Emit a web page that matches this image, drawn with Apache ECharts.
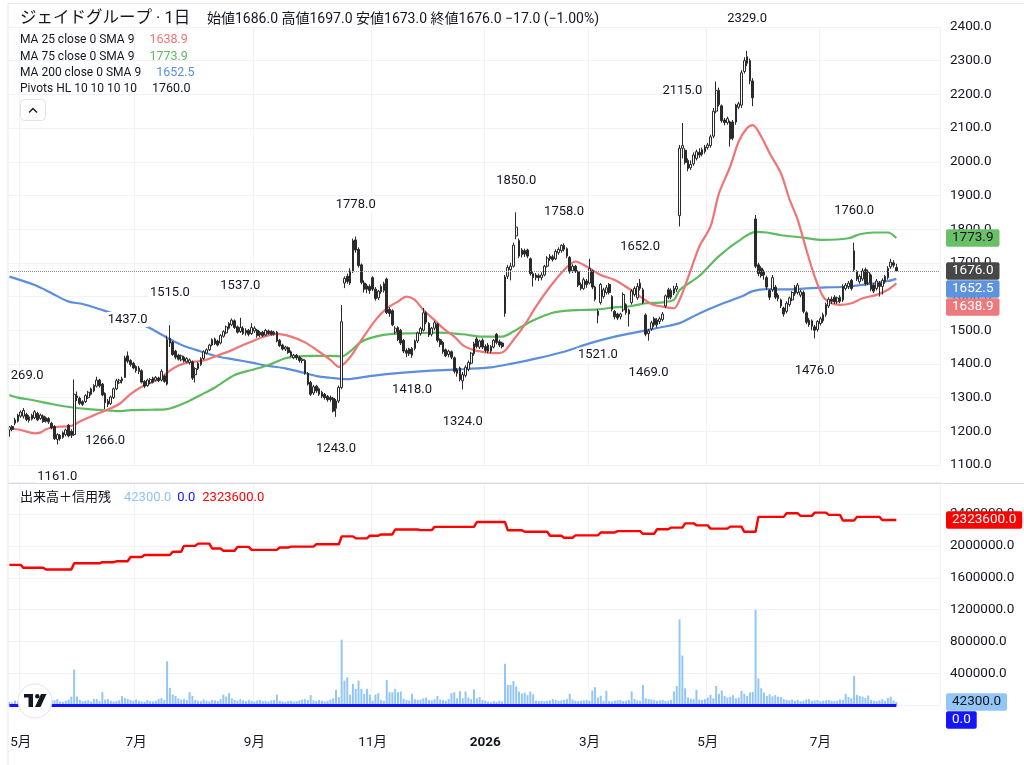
<!DOCTYPE html>
<html><head><meta charset="utf-8">
<script src="https://cdn.jsdelivr.net/npm/echarts@6/dist/echarts.min.js"></script>
<style>html,body{margin:0;padding:0;background:#fff;}#c{width:1024px;height:765px;}</style>
</head><body><div id="c"></div>
<script>
// ---------- DATA ----------
const startDate = '2025-04-24';
const holidays = ['2025-04-29','2025-05-05','2025-05-06','2025-07-21','2025-08-11','2025-09-15','2025-09-23','2025-10-13','2025-11-03','2025-11-24','2025-12-31','2026-01-01','2026-01-02','2026-01-12','2026-02-11','2026-02-23','2026-03-20','2026-04-29','2026-05-04','2026-05-05','2026-05-06','2026-07-20','2026-08-11','2026-09-21','2026-09-22','2026-09-23'];
const padSlots = 15;

// [open, close, low, high]
const candles = [
[1204,1213,1184,1216],[1214,1206,1200,1218],[1224,1234,1218,1240],[1230,1248,1226,1252],[1245,1257,1240,1262],
[1245,1262,1238,1269],[1250,1235,1230,1255],[1232,1243,1226,1248],[1236,1248,1232,1252],[1240,1258,1236,1263],
[1253,1234,1230,1258],[1238,1248,1234,1252],[1245,1229,1225,1250],[1240,1230,1226,1244],[1238,1228,1222,1242],
[1224,1210,1206,1228],[1214,1178,1174,1218],[1176,1190,1161,1194],[1188,1178,1172,1192],[1182,1196,1178,1200],
[1190,1204,1185,1208],[1218,1186,1182,1222],[1200,1188,1180,1206],[1190,1310,1186,1354],[1305,1300,1290,1318],
[1298,1283,1278,1303],[1288,1280,1275,1292],[1288,1306,1284,1310],[1300,1316,1296,1320],[1310,1326,1306,1330],
[1320,1336,1316,1340],[1334,1352,1330,1362],[1352,1335,1330,1356],[1340,1308,1304,1344],[1312,1285,1266,1316],
[1290,1280,1272,1296],[1282,1302,1278,1306],[1300,1326,1296,1330],[1326,1350,1322,1356],[1344,1352,1340,1356],
[1350,1356,1342,1362],[1360,1418,1358,1424],[1424,1408,1402,1437],[1410,1398,1392,1414],[1402,1388,1384,1406],
[1392,1380,1374,1396],[1378,1388,1370,1394],[1380,1346,1342,1384],[1348,1334,1328,1352],[1336,1352,1332,1356],
[1344,1354,1340,1358],[1346,1358,1342,1362],[1352,1360,1348,1364],[1358,1350,1346,1362],[1352,1378,1348,1384],
[1364,1348,1344,1368],[1340,1472,1336,1484],[1476,1462,1450,1515],[1464,1428,1424,1468],[1438,1420,1414,1442],
[1426,1414,1410,1430],[1412,1424,1408,1428],[1420,1408,1404,1424],[1406,1416,1402,1420],[1404,1412,1398,1416],
[1406,1358,1352,1410],[1368,1386,1345,1390],[1386,1402,1382,1406],[1398,1416,1394,1420],[1416,1436,1412,1440],
[1432,1442,1428,1446],[1442,1456,1438,1460],[1456,1472,1452,1476],[1474,1460,1456,1478],[1468,1456,1452,1472],
[1462,1484,1458,1488],[1482,1496,1478,1500],[1492,1510,1488,1514],[1506,1520,1502,1524],[1516,1530,1512,1535],
[1528,1508,1504,1532],[1510,1494,1490,1514],[1496,1508,1492,1537],[1506,1490,1486,1512],[1492,1500,1484,1506],
[1500,1488,1482,1504],[1490,1508,1486,1521],[1498,1506,1492,1512],[1500,1484,1478,1504],[1486,1494,1480,1498],
[1494,1484,1480,1498],[1486,1500,1482,1504],[1498,1490,1486,1502],[1496,1488,1484,1500],[1488,1494,1484,1498],
[1494,1468,1464,1498],[1470,1454,1450,1474],[1456,1444,1440,1460],[1444,1450,1438,1454],[1448,1434,1430,1452],
[1436,1424,1420,1440],[1418,1426,1414,1430],[1426,1418,1412,1430],[1420,1410,1404,1424],[1410,1414,1402,1418],
[1410,1372,1368,1414],[1372,1340,1336,1376],[1345,1310,1305,1350],[1314,1332,1308,1338],[1334,1320,1314,1338],
[1326,1310,1305,1330],[1316,1304,1298,1320],[1310,1300,1294,1314],[1304,1294,1288,1308],[1300,1294,1288,1306],
[1298,1260,1256,1302],[1268,1290,1243,1296],[1290,1330,1284,1336],[1330,1525,1325,1575],[1640,1654,1625,1660],
[1660,1645,1638,1668],[1640,1676,1634,1684],[1676,1766,1670,1772],[1768,1738,1730,1778],[1740,1692,1686,1746],
[1694,1642,1636,1698],[1640,1622,1612,1648],[1622,1632,1610,1638],[1630,1618,1608,1636],[1656,1622,1616,1660],
[1622,1594,1588,1628],[1596,1616,1590,1620],[1614,1630,1608,1636],[1618,1638,1612,1644],[1652,1552,1548,1656],
[1562,1550,1540,1568],[1558,1516,1512,1562],[1494,1506,1488,1512],[1508,1472,1468,1512],[1500,1462,1456,1504],
[1470,1438,1432,1474],[1440,1432,1420,1446],[1444,1430,1424,1448],[1426,1446,1418,1450],[1446,1468,1440,1472],
[1468,1492,1462,1496],[1490,1505,1484,1510],[1500,1552,1496,1566],[1552,1524,1518,1556],[1520,1486,1480,1524],
[1488,1506,1482,1510],[1506,1522,1500,1528],[1518,1470,1464,1522],[1472,1458,1450,1476],[1464,1436,1430,1468],
[1442,1424,1420,1446],[1428,1438,1420,1442],[1436,1420,1414,1440],[1418,1378,1372,1422],[1382,1372,1362,1388],
[1388,1354,1348,1392],[1350,1368,1324,1376],[1366,1390,1360,1396],[1384,1404,1378,1410],[1402,1432,1398,1436],
[1430,1460,1424,1466],[1474,1452,1446,1480],[1450,1468,1444,1472],[1470,1450,1444,1476],[1452,1440,1434,1458],
[1456,1438,1432,1462],[1438,1452,1432,1456],[1450,1470,1446,1474],[1488,1464,1458,1492],[1466,1456,1450,1472],
[1462,1452,1446,1466],[1550,1658,1540,1664],[1660,1686,1652,1694],[1680,1690,1648,1700],[1690,1752,1686,1760],
[1780,1806,1770,1850],[1766,1720,1714,1772],[1724,1738,1716,1744],[1736,1726,1718,1742],[1738,1720,1714,1742],
[1712,1668,1662,1716],[1668,1656,1630,1674],[1656,1664,1648,1670],[1662,1656,1646,1668],[1656,1664,1648,1672],
[1664,1690,1660,1694],[1690,1714,1686,1720],[1712,1720,1706,1726],[1718,1710,1704,1724],[1712,1734,1708,1740],
[1730,1740,1724,1746],[1736,1752,1730,1755],[1752,1740,1734,1758],[1742,1720,1714,1746],[1716,1674,1668,1720],
[1676,1690,1670,1696],[1690,1676,1670,1694],[1674,1634,1628,1678],[1636,1624,1618,1642],[1624,1650,1620,1656],
[1646,1636,1626,1652],[1640,1684,1636,1712],[1676,1628,1622,1680],[1628,1592,1586,1632],[1556,1544,1521,1562],
[1582,1636,1576,1640],[1600,1620,1594,1626],[1612,1626,1606,1634],[1636,1612,1606,1640],[1600,1562,1556,1604],
[1556,1540,1532,1560],[1548,1536,1530,1552],[1540,1548,1532,1552],[1560,1606,1554,1612],[1576,1552,1546,1580],
[1560,1548,1511,1564],[1582,1616,1576,1622],[1606,1624,1600,1630],[1596,1630,1590,1640],[1624,1640,1618,1652],
[1620,1582,1578,1626],[1545,1488,1482,1550],[1490,1498,1469,1504],[1504,1522,1498,1528],[1534,1516,1510,1540],
[1516,1530,1508,1536],[1526,1534,1518,1540],[1532,1548,1526,1554],[1572,1602,1566,1606],[1620,1598,1592,1626],
[1598,1618,1592,1624],[1610,1624,1604,1632],[1622,1630,1614,1640],[1840,2040,1808,2050],[2040,2048,2010,2115],
[2034,1998,1992,2040],[2004,1980,1972,2010],[1982,1992,1976,2004],[1994,2020,1988,2028],[2010,2030,2004,2036],
[2028,2020,2012,2040],[2022,2036,2016,2042],[2030,2044,2024,2050],[2042,2050,2036,2056],[2048,2074,2042,2080],
[2076,2150,2070,2160],[2150,2212,2144,2238],[2212,2170,2164,2220],[2166,2122,2116,2170],[2124,2116,2108,2130],
[2116,2128,2110,2134],[2118,2068,2045,2122],[2070,2118,2064,2124],[2168,2118,2110,2172],[2162,2172,2156,2178],
[2168,2264,2160,2272],[2268,2300,2262,2310],[2292,2312,2284,2329],[2300,2240,2230,2306],[2240,2190,2165,2248],
[1830,1690,1684,1842],[1694,1668,1660,1700],[1684,1662,1656,1690],[1664,1674,1650,1680],[1656,1628,1620,1662],
[1618,1598,1590,1622],[1620,1656,1614,1664],[1628,1598,1592,1634],[1604,1594,1586,1610],[1590,1572,1566,1594],
[1566,1548,1540,1570],[1556,1580,1550,1586],[1576,1596,1570,1600],[1590,1612,1586,1616],[1608,1628,1602,1634],
[1612,1634,1606,1640],[1604,1614,1598,1620],[1612,1556,1550,1618],[1552,1524,1518,1556],[1530,1516,1510,1536],
[1528,1512,1500,1532],[1510,1500,1476,1516],[1502,1526,1496,1530],[1520,1534,1514,1540],[1528,1546,1522,1552],
[1546,1576,1540,1582],[1572,1592,1566,1598],[1592,1586,1578,1600],[1598,1584,1578,1604],[1584,1596,1578,1600],
[1598,1586,1580,1604],[1590,1630,1584,1636],[1624,1634,1618,1640],[1630,1640,1622,1646],[1648,1624,1618,1652],
[1736,1680,1674,1760],[1674,1652,1646,1678],[1644,1660,1638,1666],[1652,1676,1646,1684],[1680,1638,1632,1686],
[1640,1672,1634,1680],[1664,1622,1616,1668],[1634,1616,1610,1640],[1624,1646,1618,1652],[1640,1630,1600,1646],
[1630,1648,1606,1654],[1644,1660,1638,1664],[1656,1684,1650,1690],[1688,1702,1682,1712],[1700,1693,1686,1708],
[1686,1676,1673,1697]
];

const volumes = [
45000,38000,60000,50000,70000,65000,45000,50000,55000,60000,
45000,50000,40000,55000,60000,70000,65000,80000,50000,45000,
60000,75000,110000,450000,112000,70000,55000,60000,65000,50000,
83000,80000,55000,167000,75000,80000,60000,50000,55000,65000,
117000,95000,80000,70000,60000,75000,60000,50000,45000,70000,
55000,50000,60000,80000,95000,70000,554000,221000,137000,120000,
90000,75000,80000,70000,167000,120000,70000,60000,55000,75000,
60000,50000,70000,65000,55000,80000,137000,112000,154000,90000,
70000,60000,80000,65000,55000,70000,60000,50000,65000,70000,
55000,60000,50000,65000,70000,137000,60000,50000,45000,55000,
60000,50000,55000,65000,75000,80000,70000,130000,65000,55000,
70000,60000,50000,60000,75000,90000,196000,104000,825000,312000,
354000,137000,271000,208000,312000,208000,146000,208000,137000,62000,
137000,154000,70000,60000,320000,167000,167000,208000,167000,175000,
85000,70000,60000,146000,80000,70000,75000,90000,100000,70000,
65000,80000,120000,75000,70000,60000,80000,154000,167000,90000,
180000,90000,175000,100000,80000,204000,90000,106000,70000,60000,
50000,40000,55000,45000,60000,50000,522000,257000,257000,306000,
237000,175000,150000,160000,130000,175000,140000,60000,55000,60000,
55000,60000,65000,80000,70000,60000,65000,70000,80000,147000,
75000,60000,55000,60000,65000,70000,60000,188000,229000,100000,
122000,60000,184000,55000,50000,60000,65000,70000,55000,60000,
70000,175000,80000,65000,60000,257000,90000,80000,75000,70000,
60000,65000,70000,55000,60000,70000,175000,245000,1080000,625000,
216000,100000,85000,80000,196000,75000,70000,80000,100000,135000,
90000,245000,147000,188000,120000,100000,110000,130000,90000,100000,
184000,147000,120000,163000,170000,1196000,339000,216000,163000,120000,
140000,115000,130000,110000,105000,80000,70000,65000,75000,60000,
70000,55000,60000,75000,80000,60000,65000,70000,55000,60000,
65000,70000,60000,55000,60000,75000,70000,147000,106000,90000,
371000,135000,120000,110000,95000,125000,70000,60000,55000,65000,
80000,60000,95000,110000,60000,42300
];

// margin balance (信用残): [first candle index of the step, value]
const marginSteps = [[0,1762000],[5,1725000],[13,1704000],[23,1782000],[33,1795000],[38,1807000],[43,1860000],[48,1885000],[58,1926000],[62,2000000],[67,2028000],[72,1967000],[76,1938000],[81,1987000],[86,1950000],[96,1979000],[100,1991000],[109,2020000],[118,2119000],[123,2094000],[128,2127000],[132,2143000],[137,2205000],[146,2197000],[151,2238000],[166,2298000],[177,2196000],[183,2176000],[192,2127000],[197,2102000],[201,2131000],[210,2167000],[216,2184000],[225,2151000],[230,2208000],[235,2229000],[240,2282000],[244,2257000],[249,2216000],[256,2241000],[261,2176000],[266,2363000],[276,2408000],[281,2376000],[286,2416000],[291,2388000],[296,2318000],[301,2363000],[310,2323600]];

// the second volume-pane series (value 0.0)
const zeroSeriesValue = 0;

// moving averages: [candle index, value]
const ma25 = [[0,1209],[4,1204],[9,1194],[11,1196],[13,1206],[16,1213],[22,1216],[25,1229],[30,1248],[35,1265],[39,1281],[43,1310],[47,1332],[51,1347],[54,1360],[57,1380],[60,1395],[64,1405],[69,1410],[74,1425],[79,1441],[83,1456],[86,1466],[90,1480],[95,1489],[100,1481],[105,1464],[109,1442],[114,1412],[117,1391],[121,1420],[125,1471],[130,1530],[134,1565],[138,1585],[141,1600],[144,1590],[147,1560],[151,1530],[154,1506],[158,1481],[161,1456],[165,1441],[168,1436],[172,1432],[175,1434],[179,1471],[183,1516],[187,1570],[192,1629],[197,1679],[201,1704],[205,1689],[210,1664],[215,1649],[219,1629],[224,1600],[228,1578],[232,1570],[236,1565],[238,1590],[242,1679],[245,1748],[249,1808],[252,1906],[256,1986],[259,2060],[262,2100],[264,2109],[267,2075],[270,2025],[274,1966],[277,1890],[280,1827],[283,1740],[286,1659],[289,1600],[292,1580],[295,1575],[299,1580],[303,1595],[308,1605],[312,1620],[315,1638.9]];
const ma75 = [[0,1308],[3,1300],[8,1293],[15,1281],[23,1270],[28,1266],[33,1263],[39,1260],[43,1263],[50,1264],[56,1266],[62,1283],[68,1308],[73,1330],[80,1367],[86,1382],[92,1397],[98,1417],[102,1422],[107,1424],[114,1424],[118,1422],[121,1437],[125,1466],[130,1481],[136,1489],[144,1491],[152,1493],[161,1488],[168,1481],[175,1481],[179,1496],[184,1521],[189,1540],[193,1552],[198,1558],[203,1560],[209,1562],[215,1568],[221,1572],[226,1580],[231,1582],[236,1590],[238,1619],[245,1661],[252,1720],[259,1765],[265,1792],[269,1790],[274,1782],[281,1776],[289,1768],[298,1773],[302,1785],[307,1790],[312,1790],[315,1773.9]];
const ma200 = [[0,1659],[9,1634],[15,1610],[21,1585],[26,1578],[33,1560],[36,1552],[43,1530],[50,1506],[57,1473],[62,1453],[68,1437],[74,1422],[80,1413],[86,1404],[92,1394],[98,1387],[103,1377],[109,1364],[114,1359],[120,1355],[128,1364],[140,1374],[150,1380],[162,1385],[171,1390],[178,1400],[185,1412],[197,1436],[206,1461],[215,1481],[222,1493],[231,1508],[238,1521],[245,1550],[252,1575],[260,1600],[264,1616],[269,1622],[276,1621],[283,1624],[290,1627],[297,1629],[305,1637],[312,1646],[315,1652.5]];

// Pivots HL 10 10 10 10 : [candle index, price]
const pivotHighs = [[5,1269],[42,1437],[57,1515],[82,1537],[123,1778],[180,1850],[197,1758],[224,1652],[239,2115],[262,2329],[300,1760]];
const pivotLows = [[17,1161],[34,1266],[116,1243],[143,1418],[161,1324],[209,1521],[227,1469],[286,1476]];

const symbolName = 'ジェイドグループ · 1日';

// ---------- BUILD ----------
const FONT = "Roboto, 'Noto Sans CJK JP', sans-serif";
const N = candles.length;
function buildDates(n){
  const out=[]; const d=new Date(startDate+'T00:00:00Z');
  while(out.length<n){
    const dow=d.getUTCDay(); const s=d.toISOString().slice(0,10);
    if(dow!==0 && dow!==6 && holidays.indexOf(s)<0) out.push(s);
    d.setUTCDate(d.getUTCDate()+1);
  }
  return out;
}
const dates = buildDates(N + padSlots);
const mon = i => +dates[i].slice(5,7);
const isMonthTick = (i) => i>0 && i<N && mon(i)!==mon(i-1) && mon(i)%2===1;
const monthLabel = (v,i) => mon(i)===1 ? '{y|'+dates[i].slice(0,4)+'}' : mon(i)+'月';

const marginData = [];
for(let i=0;i<N;i++){ let v=marginSteps[0][1]; for(const [s,val] of marginSteps){ if(i>=s) v=val; } marginData.push(v); }
const zeroData = candles.map(()=>zeroSeriesValue);

const last = candles[N-1], prevClose = candles[N-2][1];
const chg = last[1]-prevClose, pct = chg/prevClose*100;
const fmt = v => v.toFixed(1);
const sgn = (v,d) => (v<0?'−':'+')+Math.abs(v).toFixed(d);

const chart = echarts.init(document.getElementById('c'), null, {width:1024,height:765});
const gridCol = '#f0f2f6';
const axisLabelStyle = {color:'#131722', fontSize:13.5, fontFamily:FONT};
const pivotLabel = (dy) => ({show:true,position:'inside',offset:[0,dy],formatter:p=>fmt(p.value[1]),color:'#131722',
  opacity:1,fontSize:13,fontFamily:FONT,backgroundColor:'#ffffff',padding:[1,1]});

const option = {
  animation:false,
  textStyle:{fontFamily:FONT},
  grid:[{left:8,right:84,top:27,height:438},{left:8,right:84,top:482,height:223.5}],
  xAxis:[
    {type:'category',gridIndex:0,data:dates,axisLine:{show:false},axisTick:{show:false},axisLabel:{show:false},
     splitLine:{show:true,interval:(i)=>isMonthTick(i),lineStyle:{color:gridCol}}},
    {type:'category',gridIndex:1,data:dates,axisLine:{show:false},axisTick:{show:false},
     axisLabel:Object.assign({show:true,interval:(i)=>isMonthTick(i),formatter:monthLabel,margin:30,
       rich:{y:{fontWeight:'bold',fontSize:13.5,color:'#131722',fontFamily:FONT}}},axisLabelStyle),
     splitLine:{show:true,interval:(i)=>isMonthTick(i),lineStyle:{color:gridCol}}}
  ],
  yAxis:[
    {type:'value',gridIndex:0,position:'right',min:1100,max:2400,interval:100,
     axisLine:{show:false},axisTick:{show:false},
     axisLabel:Object.assign({formatter:v=>v.toFixed(1),align:'left',margin:10},axisLabelStyle),
     splitLine:{lineStyle:{color:gridCol}}},
    {type:'value',gridIndex:1,position:'right',min:0,max:2800000,interval:400000,
     axisLine:{show:false},axisTick:{show:false},
     axisLabel:Object.assign({formatter:v=>v.toFixed(1),align:'left',margin:10,showMaxLabel:false},axisLabelStyle),
     splitLine:{lineStyle:{color:gridCol}}}
  ],
  series:[
    {name:'MA200',type:'line',xAxisIndex:0,yAxisIndex:0,data:ma200,symbol:'none',smooth:0.3,z:2,
     lineStyle:{color:'#5b8fde',width:2.2}},
    {name:'MA75',type:'line',xAxisIndex:0,yAxisIndex:0,data:ma75,symbol:'none',smooth:0.3,z:2,
     lineStyle:{color:'#5fbb60',width:2.2}},
    {name:'MA25',type:'line',xAxisIndex:0,yAxisIndex:0,data:ma25,symbol:'none',smooth:0.3,z:2,
     lineStyle:{color:'#f07575',width:2.2}},
    {name:'price',type:'candlestick',xAxisIndex:0,yAxisIndex:0,data:candles,barWidth:2.2,z:3,
     itemStyle:{color:'#ffffff',color0:'#2a2a2a',borderColor:'#2a2a2a',borderColor0:'#2a2a2a',borderWidth:1},
     markLine:{symbol:['none','none'],silent:true,label:{show:false},
       lineStyle:{type:'dotted',color:'#8a8d96',width:1},data:[{yAxis:last[1]}]}},
    {name:'pivH',type:'scatter',xAxisIndex:0,yAxisIndex:0,data:pivotHighs,symbolSize:2,z:6,clip:false,silent:true,
     itemStyle:{color:'rgba(255,255,255,0)',opacity:1},label:pivotLabel(-32)},
    {name:'pivL',type:'scatter',xAxisIndex:0,yAxisIndex:0,data:pivotLows,symbolSize:2,z:6,clip:false,silent:true,
     itemStyle:{color:'rgba(255,255,255,0)',opacity:1},label:pivotLabel(32)},
    {name:'volume',type:'bar',xAxisIndex:1,yAxisIndex:1,data:volumes,barWidth:2,z:2,itemStyle:{color:'#93c6f4'}},
    {name:'zero',type:'line',xAxisIndex:1,yAxisIndex:1,data:zeroData,symbol:'none',z:3,lineStyle:{color:'#1414ff',width:3}},
    {name:'margin',type:'line',xAxisIndex:1,yAxisIndex:1,data:marginData,symbol:'none',z:4,clip:false,
     lineStyle:{color:'#ff0000',width:2.4}}
  ]
};
chart.setOption(option);

// ---------- overlay texts and right-scale value boxes ----------
const g = [];
const txt = (x,y,text,style) => g.push({type:'text',x,y,z:100,silent:true,
  style:Object.assign({text,font:'13px '+FONT,fill:'#131722',verticalAlign:'middle'},style||{})});

// borders / separators
g.push({type:'rect',z:90,silent:true,shape:{x:0,y:0,width:8.6,height:483},style:{fill:'#ffffff'}});
g.push({type:'line',z:91,silent:true,shape:{x1:8,y1:3,x2:8,y2:765},style:{stroke:'#e6e8ee',lineWidth:1}});
g.push({type:'line',z:91,silent:true,shape:{x1:8,y1:3.5,x2:1024,y2:3.5},style:{stroke:'#e6e8ee',lineWidth:1}});
g.push({type:'line',z:91,silent:true,shape:{x1:8,y1:483.5,x2:1024,y2:483.5},style:{stroke:'#d6d9e0',lineWidth:1}});

// header
txt(20,19,symbolName,{font:'16.5px '+FONT});
txt(207,19,'始値'+fmt(last[0])+' 高値'+fmt(last[3])+' 安値'+fmt(last[2])+' 終値'+fmt(last[1])+' '+sgn(chg,1)+' ('+sgn(pct,2)+'%)',{font:'14px '+FONT});
// legend rows
const lg = (y,name,val,col) => txt(20,y,'{n|'+name+'}{v|'+val+'}',{rich:{
  n:{font:'12px '+FONT,fill:'#131722'},v:{font:'12.5px '+FONT,fill:col,padding:[0,0,0,15]}}});
lg(40,'MA 25 close 0 SMA 9',fmt(ma25[ma25.length-1][1]),'#f07575');
lg(57,'MA 75 close 0 SMA 9',fmt(ma75[ma75.length-1][1]),'#5fbb60');
lg(73,'MA 200 close 0 SMA 9',fmt(ma200[ma200.length-1][1]),'#5b8fde');
lg(89,'Pivots HL 10 10 10 10',fmt(pivotHighs[pivotHighs.length-1][1]),'#131722');
// collapse button
g.push({type:'rect',z:100,silent:true,shape:{x:20.5,y:99.5,width:25,height:21,r:4},style:{fill:'#fff',stroke:'#e0e3eb',lineWidth:1}});
g.push({type:'polyline',z:101,silent:true,shape:{points:[[29,112.5],[33,108.5],[37,112.5]]},style:{stroke:'#131722',lineWidth:1.4,fill:null}});

// volume pane legend
txt(20,498,'{n|出来高＋信用残}{a|'+fmt(volumes[N-1])+'}{b|'+fmt(zeroSeriesValue)+'}{c|'+fmt(marginData[N-1])+'}',{rich:{
  n:{font:'13px '+FONT,fill:'#131722'},
  a:{font:'13px '+FONT,fill:'#90c4f4',padding:[0,0,0,13]},
  b:{font:'13px '+FONT,fill:'#1414ff',padding:[0,0,0,6]},
  c:{font:'13px '+FONT,fill:'#ff0000',padding:[0,0,0,7]}}});

// TradingView logo
g.push({type:'circle',z:100,silent:true,shape:{cx:35,cy:701,r:17},style:{fill:'#ffffff',stroke:'#e0e3eb',lineWidth:1}});
g.push({type:'rect',z:101,silent:true,shape:{x:24,y:694,width:9,height:3.5},style:{fill:'#131722'}});
g.push({type:'rect',z:101,silent:true,shape:{x:28.5,y:694,width:4.5,height:13},style:{fill:'#131722'}});
g.push({type:'circle',z:101,silent:true,shape:{cx:37.3,cy:696.2,r:2.2},style:{fill:'#131722'}});
g.push({type:'polygon',z:101,silent:true,shape:{points:[[41,694],[46.5,694],[40.5,707],[35,707]]},style:{fill:'#131722'}});

// value boxes on the right scales (stacked so they do not overlap)
function boxes(list, yi){
  list.forEach(b=>{ b.y = chart.convertToPixel({yAxisIndex:yi}, b.v); });
  list.sort((a,b)=>a.y-b.y);
  for(let k=1;k<list.length;k++){ if(list[k].y < list[k-1].y+18) list[k].y = list[k-1].y+18; }
  list.forEach(b=>g.push({type:'text',x:946,y:b.y,z:110,silent:true,style:{text:fmt(b.v),font:'13.5px '+FONT,
    fill:b.fg,backgroundColor:b.bg,padding:[2,6,2,6],verticalAlign:'middle',borderRadius:2}}));
}
boxes([
  {v:ma75[ma75.length-1][1],bg:'#6abf69',fg:'#131722'},
  {v:last[1],bg:'#474747',fg:'#ffffff'},
  {v:ma200[ma200.length-1][1],bg:'#5d93dd',fg:'#ffffff'},
  {v:ma25[ma25.length-1][1],bg:'#ec7a7c',fg:'#ffffff'}
],0);
boxes([
  {v:marginData[N-1],bg:'#ff0000',fg:'#ffffff'},
  {v:volumes[N-1],bg:'#93c6f4',fg:'#131722'},
  {v:zeroSeriesValue,bg:'#1414ff',fg:'#ffffff'}
],1);

chart.setOption({graphic:g});
</script></body></html>
